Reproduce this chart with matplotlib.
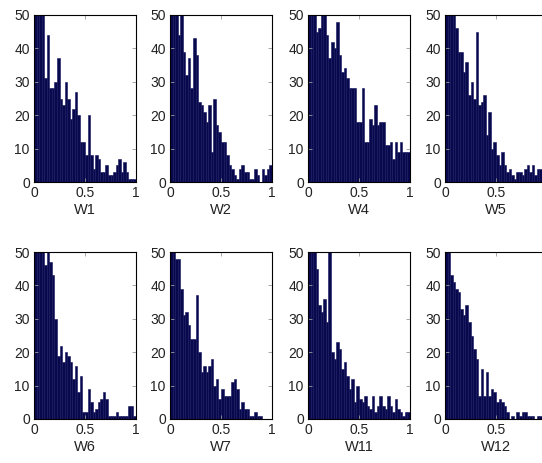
import numpy as np
import matplotlib.pyplot as plt

# histogram counts per bin (40 bins over 0..1), bars above 50 are clipped
names = ["W1", "W2", "W4", "W5", "W6", "W7", "W11", "W12"]

w1 = [60, 60, 60, 60, 31, 44, 28, 28, 30, 37, 25, 23, 30, 25, 19, 22, 27, 20, 12, 12,
      8, 20, 8, 4, 8, 7, 3, 3, 5, 2, 2, 3, 5, 7, 3, 6, 3, 1, 1, 1]
w2 = [60, 60, 60, 44, 60, 39, 32, 37, 28, 43, 38, 24, 23, 21, 18, 23, 9, 25, 17, 15,
      12, 12, 8, 5, 4, 2, 1, 4, 5, 3, 3, 1, 1, 4, 2, 0, 4, 2, 4, 5]
w4 = [60, 60, 60, 45, 46, 60, 60, 44, 37, 42, 40, 48, 38, 33, 34, 31, 28, 28, 28, 18,
      18, 28, 12, 12, 19, 17, 23, 17, 18, 18, 11, 11, 12, 7, 12, 9, 12, 9, 9, 9]
w5 = [60, 60, 60, 60, 46, 39, 39, 33, 36, 26, 30, 25, 45, 23, 24, 26, 14, 21, 10, 12,
      8, 5, 9, 5, 3, 4, 2, 1, 3, 3, 2, 4, 5, 3, 5, 2, 4, 4, 3, 2]
w6 = [60, 60, 60, 60, 46, 60, 47, 43, 30, 19, 22, 17, 20, 19, 17, 12, 16, 8, 13, 2,
      2, 9, 5, 2, 3, 5, 6, 8, 6, 1, 1, 1, 2, 1, 1, 1, 1, 4, 4, 1]
w7 = [60, 60, 48, 48, 39, 31, 32, 28, 24, 24, 37, 20, 14, 16, 14, 16, 18, 10, 12, 6,
      9, 7, 7, 7, 11, 12, 9, 3, 5, 3, 3, 1, 1, 2, 1, 1, 0, 0, 0, 0]
w11 = [60, 60, 60, 45, 34, 32, 36, 29, 60, 20, 18, 23, 21, 15, 17, 13, 9, 12, 5, 10,
       6, 5, 7, 4, 3, 7, 2, 4, 7, 4, 3, 7, 4, 2, 6, 3, 2, 1, 2, 2]
w12 = [60, 60, 43, 41, 39, 38, 33, 31, 34, 29, 25, 21, 18, 7, 15, 7, 14, 7, 9, 8,
       5, 6, 5, 4, 2, 0, 1, 0, 2, 1, 2, 2, 1, 1, 1, 0, 1, 1, 0, 0]
counts = [w1, w2, w4, w5, w6, w7, w11, w12]

edges = np.linspace(0, 1, 41)

fig = plt.figure(figsize=(5.42, 4.63), dpi=100)
W, H = 542.0, 463.0
lefts = [34, 170, 308, 445]
rows = [(15, 182), (252, 419)]
aw = 102

for k, (name, c) in enumerate(zip(names, counts)):
    r, col = divmod(k, 4)
    top, bot = rows[r]
    ax = fig.add_axes([lefts[col] / W, 1 - bot / H, aw / W, (bot - top) / H])
    ax.bar(edges[:-1], c, width=np.diff(edges), align='edge',
           color='#08084c', edgecolor='#14145e', linewidth=0.4)
    ax.set_xlim(0, 1)
    ax.set_ylim(0, 50)
    ax.set_xticks([0, 0.5, 1])
    # the last column is cut by the picture edge, so its "1" is not shown
    if col == 3:
        ax.set_xticklabels(['0', '0.5', ''])
    else:
        ax.set_xticklabels(['0', '0.5', '1'])
    ax.set_yticks([0, 10, 20, 30, 40, 50])
    ax.tick_params(direction='in', top=True, right=True, length=3, width=0.6,
                   color='#999999', labelsize=10, labelcolor='#222222', pad=3)
    for lab in ax.get_xticklabels() + ax.get_yticklabels():
        lab.set_family('Liberation Sans')
    for s in ax.spines.values():
        s.set_linewidth(0.8)
        s.set_color('black')
    ax.set_xlabel(name, fontsize=10.5, family='Liberation Sans', color='#222222', labelpad=2)

fig.savefig('out.png', dpi=100)
